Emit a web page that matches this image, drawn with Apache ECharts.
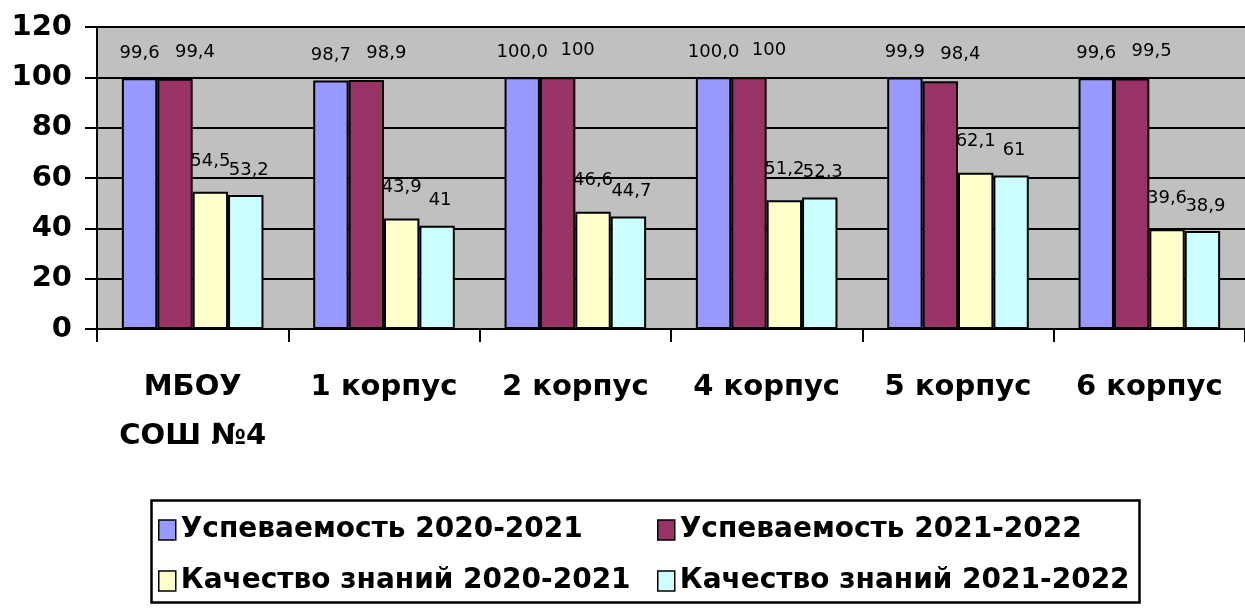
<!DOCTYPE html>
<html><head><meta charset="utf-8">
<script src="https://cdn.jsdelivr.net/npm/echarts@6/dist/echarts.min.js"></script>
<style>html,body{margin:0;padding:0;background:#fff}#c{width:1245px;height:612px}</style>
</head><body><div id="c"></div>
<script>
const categories = ['МБОУ\nСОШ №4', '1 корпус', '2 корпус', '4 корпус', '5 корпус', '6 корпус'];
const seriesNames = ['Успеваемость 2020-2021', 'Успеваемость 2021-2022', 'Качество знаний 2020-2021', 'Качество знаний 2021-2022'];
const uspev2021 = [99.6, 98.7, 100.0, 100.0, 99.9, 99.6];
const uspev2022 = [99.4, 98.9, 100, 100, 98.4, 99.5];
const kach2021 = [54.5, 43.9, 46.6, 51.2, 62.1, 39.6];
const kach2022 = [53.2, 41, 44.7, 52.3, 61, 38.9];
const yTicks = [0, 20, 40, 60, 80, 100, 120];
const colors = ['#9999FF', '#993366', '#FFFFCC', '#CCFFFF'];

const FONT = 'DejaVu Sans';
const seriesData = [uspev2021, uspev2022, kach2021, kach2022];
const labelShift = [[0, 0], [20, -2], [0, -6], [3, 0]];

const chart = echarts.init(document.getElementById('c'));
const series = seriesData.map((d, i) => ({
  name: seriesNames[i],
  type: 'bar',
  data: d,
  barGap: '0%',
  barCategoryGap: '26%',
  itemStyle: { color: colors[i], borderColor: '#000', borderWidth: 2 },
  label: {
    show: true, position: 'top', distance: 16, offset: labelShift[i],
    fontFamily: FONT, fontSize: 18, color: '#000',
    formatter: p => (i === 0 ? p.value.toFixed(1) : String(p.value)).replace('.', ',')
  }
}));

chart.setOption({
  animation: false,
  backgroundColor: '#fff',
  color: colors,
  grid: { left: 97, top: 27, height: 302, width: 1157, show: true, backgroundColor: '#C0C0C0', borderWidth: 0 },
  xAxis: {
    type: 'category', data: categories,
    axisLine: { show: true, lineStyle: { color: '#000', width: 2 } },
    axisTick: { show: true, length: 13, lineStyle: { color: '#000', width: 2 } },
    axisLabel: { fontFamily: FONT, fontWeight: 'bold', fontSize: 29, color: '#000', margin: 34, lineHeight: 49, interval: 0 }
  },
  yAxis: {
    type: 'value', min: yTicks[0], max: yTicks[yTicks.length - 1], interval: 20,
    axisLine: { show: true, lineStyle: { color: '#000', width: 2 } },
    axisTick: { show: true, length: 12, lineStyle: { color: '#000', width: 2 } },
    splitLine: { show: true, lineStyle: { color: '#000', width: 2 } },
    axisLabel: { fontFamily: FONT, fontWeight: 'bold', fontSize: 29, color: '#000', margin: 25 }
  },
  legend: [
    { orient: 'vertical', left: 153, top: 509, itemGap: 19, itemWidth: 17, itemHeight: 20, icon: 'rect',
      data: [seriesNames[0], seriesNames[2]],
      itemStyle: { borderColor: '#000', borderWidth: 1.5 },
      textStyle: { fontFamily: FONT, fontWeight: 'bold', fontSize: 28, color: '#000', lineHeight: 32 } },
    { orient: 'vertical', left: 652, top: 509, itemGap: 19, itemWidth: 17, itemHeight: 20, icon: 'rect',
      data: [seriesNames[1], seriesNames[3]],
      itemStyle: { borderColor: '#000', borderWidth: 1.5 },
      textStyle: { fontFamily: FONT, fontWeight: 'bold', fontSize: 28, color: '#000', lineHeight: 32 } }
  ],
  graphic: [{ type: 'rect', left: 149, top: 498, shape: { width: 988, height: 102 },
    style: { fill: 'none', stroke: '#000', lineWidth: 2.5 }, z: 0 }],
  series: series
});
</script></body></html>
